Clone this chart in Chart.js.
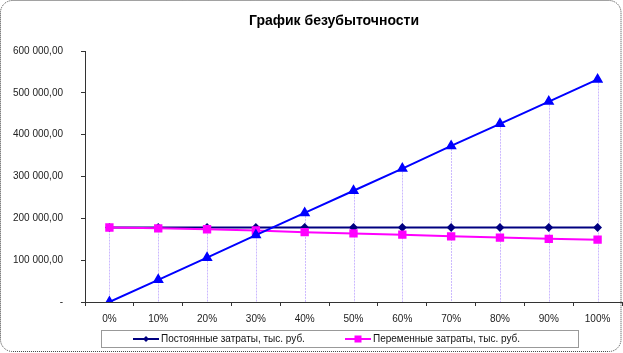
<!DOCTYPE html>
<html>
<head>
<meta charset="utf-8">
<script src="https://cdn.jsdelivr.net/npm/chart.js@4"></script>
<style>
html,body{margin:0;padding:0;background:#fff;}
#wrap{width:623px;height:353px;position:relative;}
</style>
</head>
<body>
<div id="wrap"><canvas id="c" width="623" height="353"></canvas></div>
<script>
const categories = ['0%','10%','20%','30%','40%','50%','60%','70%','80%','90%','100%'];
const fixedCosts = [178000,178000,178000,178000,178000,178000,178000,178000,178000,178000,178000];
const variableCosts = [178000,176000,174000,171000,167000,164000,161000,157000,154000,151000,149000];
const revenue = [0,53000,106000,160000,213000,266000,319000,373000,426000,479000,532000];
const yTicks = [0,100000,200000,300000,400000,500000,600000];
const titleText = 'График безубыточности';
const seriesLabels = ['Постоянные затраты, тыс. руб.','Переменные затраты, тыс. руб.','Выручка, тыс. руб.'];

function fmt(v){
  if (v === 0) return '-';
  const s = Math.round(v).toString().replace(/\B(?=(\d{3})+(?!\d))/g,' ');
  return s + ',00';
}

const framePlugin = {
  id:'frame',
  beforeDraw(chart){
    const ctx = chart.ctx;
    ctx.save();
    ctx.fillStyle = '#fff';
    ctx.fillRect(0,0,chart.width,chart.height);
    ctx.strokeStyle = '#444';
    ctx.lineWidth = 1;
    ctx.setLineDash([1,1]);
    ctx.beginPath();
    ctx.roundRect(0.5,0.5,620.5,351,12);
    ctx.stroke();
    ctx.restore();
  },
  afterDraw(chart){
    const ctx = chart.ctx;
    ctx.save();
    ctx.font = 'bold 14px "Liberation Sans", Arial, sans-serif';
    ctx.fillStyle = '#000';
    ctx.textAlign = 'center';
    ctx.textBaseline = 'alphabetic';
    ctx.fillText(titleText, 334, 25);
    ctx.restore();
  }
};

const dropLines = {
  id:'dropLines',
  beforeDatasetsDraw(chart){
    const ctx = chart.ctx, xs = chart.scales.x, ys = chart.scales.y;
    ctx.save();
    ctx.strokeStyle = 'rgba(200,180,255,0.95)';
    ctx.lineWidth = 1;
    ctx.setLineDash([2,1]);
    categories.forEach((c,i)=>{
      const m = Math.max(...chart.data.datasets.map(d=>d.data[i]));
      const x = Math.round(xs.getPixelForValue(i))+0.5;
      ctx.beginPath();
      ctx.moveTo(x, ys.getPixelForValue(m));
      ctx.lineTo(x, ys.getPixelForValue(0));
      ctx.stroke();
    });
    ctx.restore();
  }
};

const boxLegend = {
  id:'boxLegend',
  afterDraw(chart){
    const ctx = chart.ctx;
    ctx.save();
    ctx.strokeStyle = '#333';
    ctx.lineWidth = 1;
    ctx.setLineDash([1,1]);
    ctx.strokeRect(101.5,330.5,477,17);
    ctx.setLineDash([]);
    ctx.font = '10px "Liberation Sans", Arial, sans-serif';
    ctx.fillStyle = '#111';
    ctx.textBaseline = 'middle';
    const cy = 339;
    const items = [
      {x:133, ds:chart.data.datasets[0]},
      {x:345, ds:chart.data.datasets[1]}
    ];
    items.forEach(it=>{
      ctx.strokeStyle = it.ds.borderColor;
      ctx.lineWidth = 2;
      ctx.beginPath();
      ctx.moveTo(it.x, cy); ctx.lineTo(it.x+26, cy); ctx.stroke();
      ctx.fillStyle = it.ds.pointBackgroundColor;
      const mx = it.x+13;
      if (it.ds.pointStyle === 'rect'){
        ctx.fillRect(mx-3.5, cy-3.5, 7, 7);
      } else {
        ctx.beginPath();
        ctx.moveTo(mx, cy-3); ctx.lineTo(mx+3, cy); ctx.lineTo(mx, cy+3); ctx.lineTo(mx-3, cy); ctx.closePath(); ctx.fill();
      }
      ctx.fillStyle = '#111';
      ctx.fillText(it.ds.label, it.x+28, cy+0.5);
    });
    ctx.restore();
  }
};

new Chart(document.getElementById('c'), {
  type:'line',
  data:{
    labels: categories,
    datasets:[
      {label:seriesLabels[0], data:fixedCosts, borderColor:'#000080', backgroundColor:'#000080',
       pointBackgroundColor:'#000080', pointBorderColor:'#000080', pointStyle:'rectRot', pointRadius:3, borderWidth:2, order:2},
      {label:seriesLabels[1], data:variableCosts, borderColor:'#FF00FF', backgroundColor:'#FF00FF',
       pointBackgroundColor:'#FF00FF', pointBorderColor:'#FF00FF', pointStyle:'rect', pointRadius:4.5, borderWidth:2, order:1},
      {label:seriesLabels[2], data:revenue, borderColor:'#0000FF', backgroundColor:'#0000FF',
       pointBackgroundColor:'#0000FF', pointBorderColor:'#0000FF', pointStyle:'triangle', pointRadius:4.5, borderWidth:2, order:0}
    ]
  },
  options:{
    responsive:false,
    animation:false,
    devicePixelRatio:1,
    layout:{autoPadding:false, padding:{left:0,right:1,top:51,bottom:0}},
    plugins:{
      legend:{display:false},
      tooltip:{enabled:false},
      title:{display:false}
    },
    scales:{
      x:{
        type:'category', offset:true,
        grid:{display:true, drawOnChartArea:false, drawTicks:true, tickLength:4, offset:true, color:'#333'},
        border:{display:true, color:'#333', width:1},
        ticks:{color:'#222', padding:7, maxRotation:0, autoSkip:false,
          font:{family:'"Liberation Sans", Arial, sans-serif', size:10}},
        afterFit(s){ s.height = 51; s.paddingRight = 0; s.paddingLeft = 0; }
      },
      y:{
        min:0, max:600000,
        afterBuildTicks(s){ s.ticks = yTicks.map(v=>({value:v})); },
        grid:{display:true, drawOnChartArea:false, drawTicks:true, tickLength:4, color:'#333'},
        border:{display:true, color:'#333', width:1},
        ticks:{color:'#222', padding:18, callback:(v)=>fmt(v),
          font:{family:'"Liberation Sans", Arial, sans-serif', size:10}},
        afterFit(s){ s.width = 85; s.paddingTop = 0; s.paddingBottom = 0; }
      }
    }
  },
  plugins:[framePlugin, dropLines, boxLegend]
});
</script>
</body>
</html>
